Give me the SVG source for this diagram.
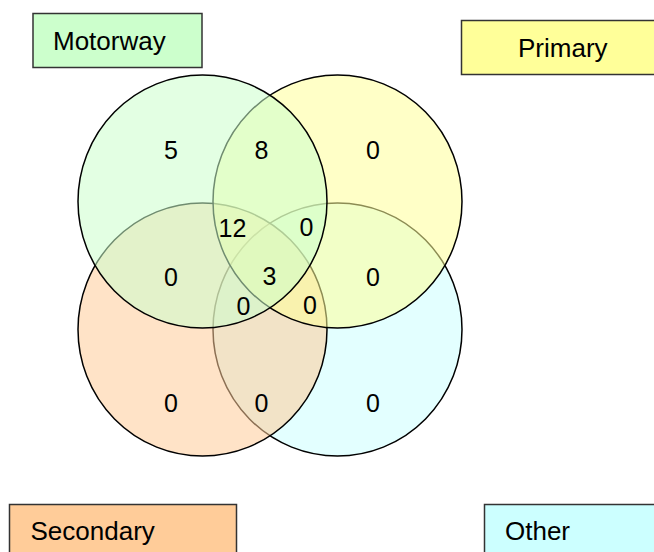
<svg xmlns="http://www.w3.org/2000/svg" width="654" height="552" viewBox="0 0 654 552">
  <style>
    .box { stroke: #333333; stroke-width: 1.5; }
    .set { stroke: #000000; stroke-width: 1.5; fill-opacity: 0.55; }
    .lbl { font-family: "Liberation Sans", Arial, sans-serif; font-size: 26px; fill: #000000; }
    .num { font-family: "Liberation Sans", Arial, sans-serif; font-size: 25px; fill: #000000; text-anchor: middle; }
  </style>
  <rect width="654" height="552" fill="#ffffff"/>

  <!-- set circles, drawn back to front -->
  <g id="set-other">
    <ellipse class="set" cx="337.5" cy="329.5" rx="124.5" ry="126.5" fill="#ccffff"/>
  </g>
  <g id="set-secondary">
    <ellipse class="set" cx="202.5" cy="329.5" rx="124.5" ry="126.5" fill="#ffcc99"/>
  </g>
  <g id="set-primary">
    <ellipse class="set" cx="337.5" cy="201.5" rx="124.5" ry="126.5" fill="#ffff99"/>
  </g>
  <g id="set-motorway">
    <ellipse class="set" cx="202.5" cy="201.5" rx="124.5" ry="126.5" fill="#ccffcc"/>
  </g>

  <!-- region counts -->
  <g id="counts">
    <text class="num" x="171" y="159">5</text>
    <text class="num" x="261.5" y="159">8</text>
    <text class="num" x="373" y="159">0</text>
    <text class="num" x="232.5" y="236.5">12</text>
    <text class="num" x="306.5" y="236">0</text>
    <text class="num" x="171" y="285.5">0</text>
    <text class="num" x="269.5" y="285">3</text>
    <text class="num" x="373" y="285.5">0</text>
    <text class="num" x="243.5" y="315">0</text>
    <text class="num" x="310" y="313.5">0</text>
    <text class="num" x="171" y="412">0</text>
    <text class="num" x="261.5" y="412">0</text>
    <text class="num" x="373" y="412">0</text>
  </g>

  <!-- legend labels -->
  <g id="label-motorway">
    <rect class="box" x="33" y="13.5" width="169" height="54" fill="#ccffcc"/>
    <text class="lbl" x="53" y="50">Motorway</text>
  </g>
  <g id="label-primary">
    <rect class="box" x="461.5" y="20.5" width="200" height="54" fill="#ffff99"/>
    <text class="lbl" x="518" y="56.5">Primary</text>
  </g>
  <g id="label-secondary">
    <rect class="box" x="9.5" y="504.5" width="227" height="60" fill="#ffcc99"/>
    <text class="lbl" x="30.5" y="540">Secondary</text>
  </g>
  <g id="label-other">
    <rect class="box" x="484.5" y="504.5" width="180" height="60" fill="#ccffff"/>
    <text class="lbl" x="505" y="540">Other</text>
  </g>

  <g id="connectors"/>
</svg>
